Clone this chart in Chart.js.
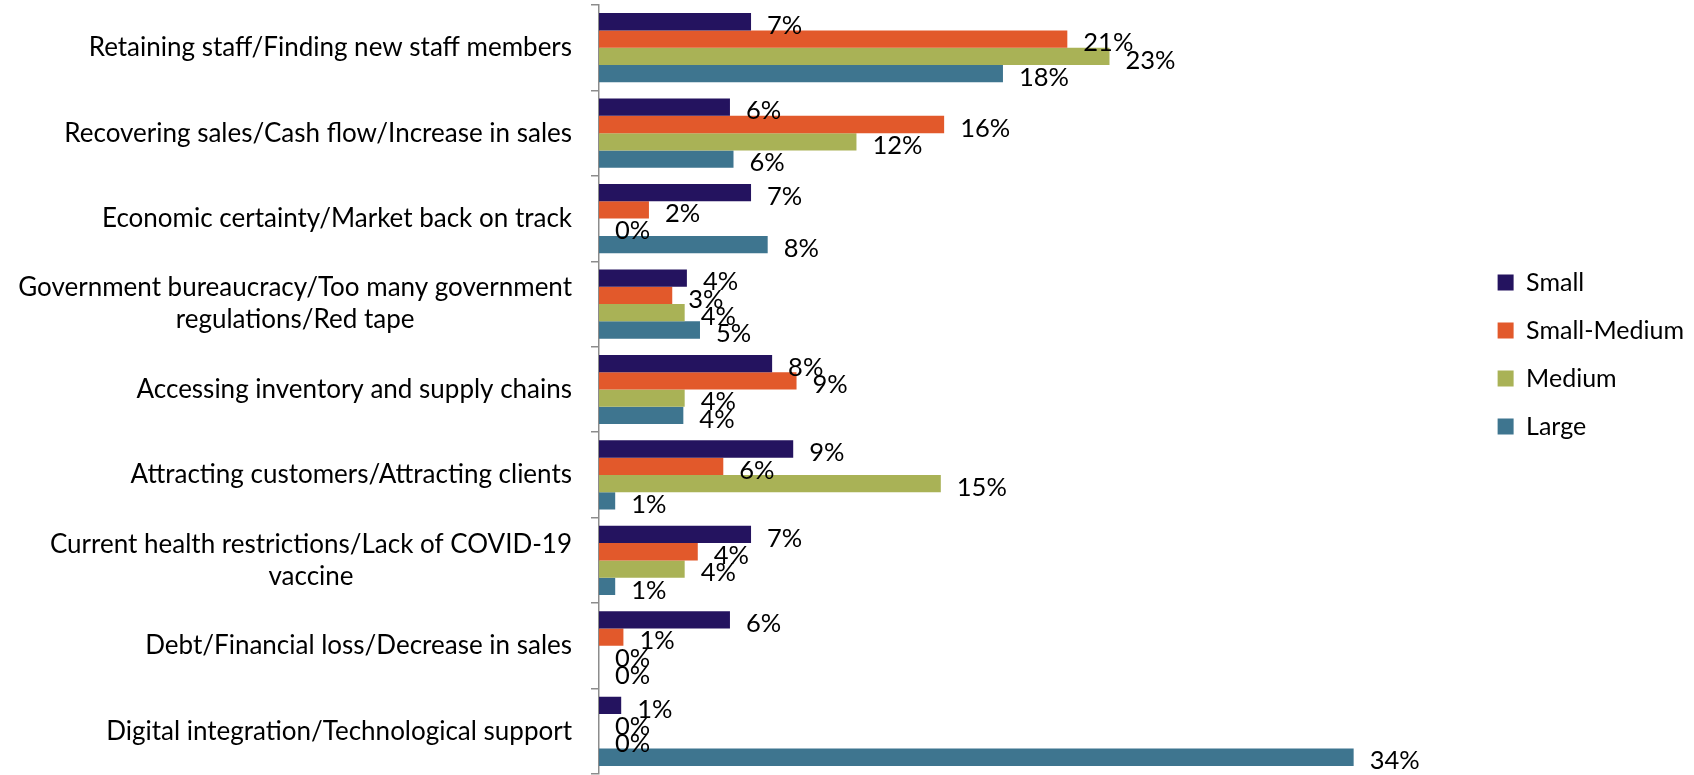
<!DOCTYPE html>
<html>
<head>
<meta charset="utf-8">
<script src="https://cdn.jsdelivr.net/npm/chart.js@4.4.1/dist/chart.umd.min.js"></script>
<style>
  html, body { margin: 0; padding: 0; background: #fff; overflow: hidden; }
  #wrap { width: 1694px; height: 775px; }
</style>
</head>
<body>
<div id="wrap"><canvas id="c" width="1694" height="775"></canvas></div>
<script>
"use strict";

const FONT = "Lato";

// ---- data (percent of respondents) ----
const categories = [
  "Retaining staff/Finding new staff members",
  "Recovering sales/Cash flow/Increase in sales",
  "Economic certainty/Market back on track",
  ["Government bureaucracy/Too many government", "regulations/Red tape"],
  "Accessing inventory and supply chains",
  "Attracting customers/Attracting clients",
  ["Current health restrictions/Lack of COVID-19", "vaccine"],
  "Debt/Financial loss/Decrease in sales",
  "Digital integration/Technological support",
];
const seriesNames = ["Small", "Small-Medium", "Medium", "Large"];
const small       = [6.85, 5.9, 6.85, 3.96, 7.8, 8.75, 6.85, 5.9, 1.0];
const smallMedium = [21.1, 15.55, 2.25, 3.3, 8.9, 5.6, 4.45, 1.1, 0];
const medium      = [23.0, 11.6, 0, 3.86, 3.86, 15.4, 3.86, 0, 0];
const large       = [18.2, 6.06, 7.6, 4.55, 3.8, 0.73, 0.73, 0, 34.0];
const colors = ["#24135f", "#e2592b", "#a9b256", "#3e758f"];

// ---- value labels to the right of each bar ----
const valueLabels = {
  id: "valueLabels",
  afterDatasetsDraw(chart) {
    const ctx = chart.ctx;
    ctx.save();
    ctx.font = `25.5px ${FONT}`;
    ctx.fillStyle = "#000";
    ctx.textAlign = "left";
    ctx.textBaseline = "middle";
    chart.data.datasets.forEach((ds, i) => {
      chart.getDatasetMeta(i).data.forEach((bar, j) => {
        ctx.fillText(Math.round(ds.data[j]) + "%", bar.x + 16, bar.y + 4);
      });
    });
    ctx.restore();
  },
};

// ---- category labels: block right-aligned, lines centred inside the block ----
const catLabels = {
  id: "catLabels",
  afterDraw(chart) {
    const ctx = chart.ctx;
    const y = chart.scales.y;
    const right = y.right - 27;
    const lh = 32;
    ctx.save();
    ctx.font = `26px ${FONT}`;
    ctx.fillStyle = "#000";
    ctx.textAlign = "center";
    ctx.textBaseline = "middle";
    categories.forEach((lab, i) => {
      const lines = Array.isArray(lab) ? lab : [lab];
      const w = Math.max(...lines.map((l) => ctx.measureText(l).width));
      const cx = right - w / 2;
      const cy = y.getPixelForValue(i);
      lines.forEach((l, k) => {
        ctx.fillText(l, cx, cy + (k - (lines.length - 1) / 2) * lh);
      });
    });
    ctx.restore();
  },
};

const sets = [small, smallMedium, medium, large].map((d, i) => ({
  label: seriesNames[i],
  data: d,
  backgroundColor: colors[i],
  borderWidth: 0,
  categoryPercentage: 0.81,
  barPercentage: 1.0,
}));

new Chart(document.getElementById("c"), {
  type: "bar",
  data: { labels: categories, datasets: sets },
  plugins: [valueLabels, catLabels],
  options: {
    indexAxis: "y",
    responsive: false,
    animation: false,
    layout: { padding: { top: 5, bottom: 1, left: 0, right: 0 } },
    plugins: {
      tooltip: { enabled: false },
      legend: {
        position: "right",
        align: "start",
        title: { display: true, text: " ", font: { size: 10 }, padding: { top: 230, bottom: 0 } },
        labels: {
          boxWidth: 16, boxHeight: 16, padding: 23, color: "#000",
          font: { family: FONT, size: 25 },
        },
      },
    },
    scales: {
      x: { display: false, min: 0, max: 39.45 },
      y: {
        afterFit: (s) => { s.width = 599; },
        ticks: { display: false },
        border: { display: true, color: "#8c8c8c", width: 1.5 },
        grid: { display: true, drawOnChartArea: false, offset: true, tickLength: 8, color: "#8c8c8c", lineWidth: 1.5 },
      },
    },
  },
});
</script>
</body>
</html>
